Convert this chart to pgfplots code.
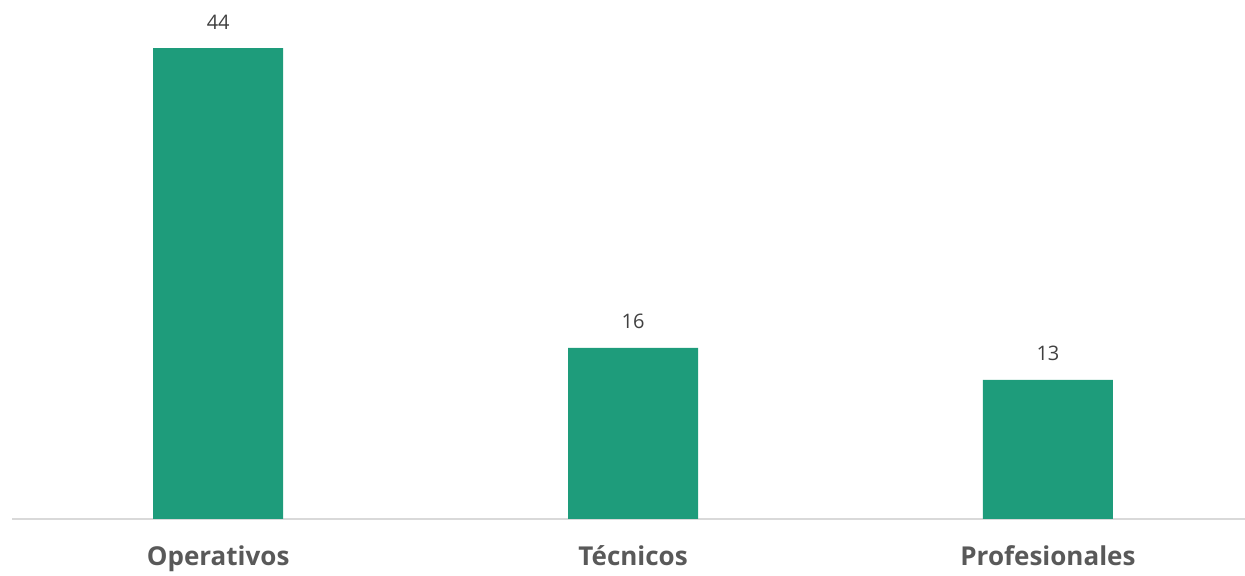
\documentclass[border=0pt]{standalone}
\usepackage{pgfplots}
\pgfplotsset{compat=1.18}
\usepackage{fontspec}
\setmainfont{Open Sans}
\definecolor{barc}{HTML}{1E9C7B}
\definecolor{axc}{HTML}{D9D9D9}
\definecolor{lblc}{HTML}{595959}
\definecolor{numc}{HTML}{404040}
\begin{document}
\begin{tikzpicture}
\begin{axis}[
  name=ax,
  scale only axis,
  width=616.5pt, height=259.5pt,
  xmin=-0.497, xmax=2.475,
  ymin=0, ymax=48.5,
  ybar, bar width=65pt,
  hide y axis,
  axis x line*=bottom,
  x axis line style={draw=axc, line width=1pt},
  xtick=data,
  xticklabels={Operativos, Técnicos, Profesionales},
  major tick length=0pt,
  xticklabel style={anchor=base, inner sep=0pt, yshift=-23.5pt,
    font=\fontsize{13pt}{15pt}\selectfont\bfseries, text=lblc},
  /pgf/number format/assume math mode=true,
  nodes near coords,
  every node near coord/.append style={anchor=base, inner sep=0pt, yshift=9.5pt,
    font=\fontsize{10pt}{12pt}\selectfont, text=numc},
  clip=false,
]
\addplot[fill=barc, draw=none] coordinates {(0,44) (1,16) (2,13)};
\end{axis}
\pgfresetboundingbox
\path (ax.south west) ++(-6pt,-28.5pt) rectangle (ax.north east);
\end{tikzpicture}
\end{document}
